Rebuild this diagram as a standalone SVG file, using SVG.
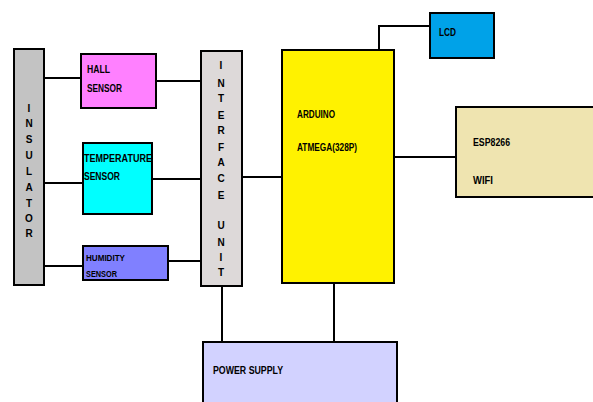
<svg xmlns="http://www.w3.org/2000/svg" width="593" height="402" viewBox="0 0 593 402">
<style>
.box{stroke:#000;stroke-width:2}
.ln{stroke:#000;stroke-width:2;fill:none}
text{font-family:"Liberation Sans",Arial,sans-serif;font-weight:bold;font-size:11px;fill:#000}
.v{text-anchor:middle;font-size:10px}
.s{font-size:9px}
</style>
<rect width="593" height="402" fill="#fff"/>
<g id="connectors">
<path class="ln" d="M44 78H81"/>
<path class="ln" d="M44 183H83"/>
<path class="ln" d="M44 266H83"/>
<path class="ln" d="M156 81H201"/>
<path class="ln" d="M152 179H201"/>
<path class="ln" d="M168 261H201"/>
<path class="ln" d="M242 177H282"/>
<path class="ln" d="M379 50V26H430"/>
<path class="ln" d="M394 157H456"/>
<path class="ln" d="M222 286V342"/>
<path class="ln" d="M334 283V342"/>
</g>
<g id="insulator">
<rect class="box" x="14" y="49" width="30" height="236" fill="#c3c3c3"/>
<text class="v" x="29" y="112">I</text>
<text class="v" x="29" y="127">N</text>
<text class="v" x="29" y="143">S</text>
<text class="v" x="29" y="159">U</text>
<text class="v" x="29" y="175">L</text>
<text class="v" x="29" y="191">A</text>
<text class="v" x="29" y="207">T</text>
<text class="v" x="29" y="222">O</text>
<text class="v" x="29" y="237">R</text>
</g>
<g id="hall">
<rect class="box" x="81" y="54" width="75" height="54" fill="#ff80ff"/>
<text x="87" y="73" textLength="23" lengthAdjust="spacingAndGlyphs">HALL</text>
<text x="87" y="92" textLength="35" lengthAdjust="spacingAndGlyphs">SENSOR</text>
</g>
<g id="temperature">
<rect class="box" x="83" y="143" width="69" height="71" fill="#00ffff"/>
<text x="84" y="162" textLength="68" lengthAdjust="spacingAndGlyphs">TEMPERATURE</text>
<text x="84" y="180" textLength="36" lengthAdjust="spacingAndGlyphs">SENSOR</text>
</g>
<g id="humidity">
<rect class="box" x="83" y="246" width="85" height="34" fill="#8080ff"/>
<text class="s" x="86" y="261" textLength="39" lengthAdjust="spacingAndGlyphs">HUMIDITY</text>
<text class="s" x="86" y="277" textLength="31" lengthAdjust="spacingAndGlyphs">SENSOR</text>
</g>
<g id="interface">
<rect class="box" x="201" y="51" width="41" height="235" fill="#ddd9d9"/>
<text class="v" x="221" y="69">I</text>
<text class="v" x="221" y="87">N</text>
<text class="v" x="221" y="102">T</text>
<text class="v" x="221" y="119">E</text>
<text class="v" x="221" y="134">R</text>
<text class="v" x="221" y="151">F</text>
<text class="v" x="221" y="166">A</text>
<text class="v" x="221" y="182">C</text>
<text class="v" x="221" y="199">E</text>
<text class="v" x="221" y="229">U</text>
<text class="v" x="221" y="246">N</text>
<text class="v" x="221" y="261">I</text>
<text class="v" x="221" y="276">T</text>
</g>
<g id="arduino">
<rect class="box" x="282" y="50" width="112" height="233" fill="#fff200"/>
<text x="297" y="118" textLength="38" lengthAdjust="spacingAndGlyphs">ARDUINO</text>
<text x="297" y="151" textLength="60" lengthAdjust="spacingAndGlyphs">ATMEGA(328P)</text>
</g>
<g id="lcd">
<rect class="box" x="430" y="13" width="64" height="45" fill="#00a2e8"/>
<text x="439" y="36" textLength="17" lengthAdjust="spacingAndGlyphs">LCD</text>
</g>
<g id="esp">
<rect class="box" x="456" y="107" width="145" height="90" fill="#efe4b0"/>
<text x="473" y="146" textLength="37" lengthAdjust="spacingAndGlyphs">ESP8266</text>
<text x="473" y="184" textLength="20" lengthAdjust="spacingAndGlyphs">WIFI</text>
</g>
<g id="power">
<rect class="box" x="203" y="342" width="194" height="70" fill="#d2d2ff"/>
<text x="213" y="374" textLength="70" lengthAdjust="spacingAndGlyphs">POWER SUPPLY</text>
</g>
</svg>
